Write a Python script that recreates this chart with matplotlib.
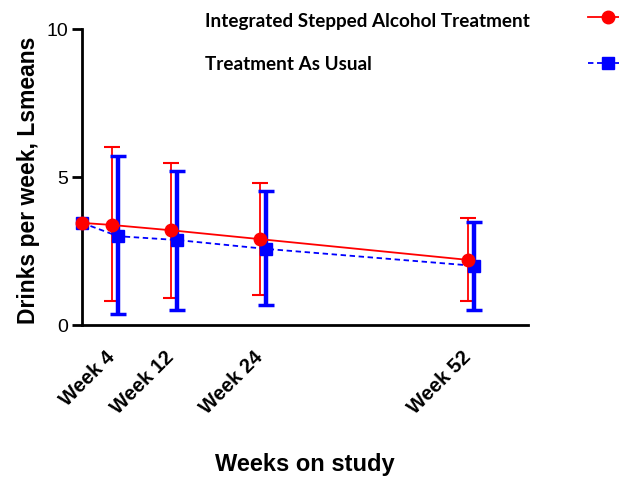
import numpy as np
import matplotlib
matplotlib.use("Agg")
import matplotlib.pyplot as plt
from matplotlib.lines import Line2D

# ---- data ----
weeks = [0, 4, 12, 24, 52]
tick_labels = ['Week 4', 'Week 12', 'Week 24', 'Week 52']

isat_mean = [3.45, 3.38, 3.20, 2.90, 2.20]
isat_low = [0.80, 0.90, 1.00, 0.80]      # follow-up weeks only
isat_high = [6.00, 5.48, 4.80, 3.60]

tau_mean = [3.45, 3.00, 2.87, 2.57, 2.00]
tau_low = [0.37, 0.50, 0.68, 0.50]
tau_high = [5.70, 5.20, 4.53, 3.48]

labels = ['Integrated Stepped Alcohol Treatment', 'Treatment As Usual']

RED = '#FF0000'
BLUE = '#0000FF'
DODGE = 0.85   # weeks, small shift so the bars don't overlap

plt.rcParams['font.family'] = ['Liberation Sans', 'DejaVu Sans']

fig = plt.figure(figsize=(6.19, 4.83), dpi=100)
ax = fig.add_axes([82/619, 1-325/483, (528-82)/619, (325-29)/483])

x_isat = np.array(weeks, dtype=float)
x_tau = np.array([w + DODGE if w > 0 else w for w in weeks], dtype=float)

isat_m = np.array(isat_mean)
tau_m = np.array(tau_mean)

# error bars (follow-up only)
ax.errorbar(x_isat[1:], isat_m[1:],
            yerr=[isat_m[1:] - np.array(isat_low), np.array(isat_high) - isat_m[1:]],
            fmt='none', ecolor=RED, elinewidth=1.3, capsize=6, capthick=1.5, zorder=3)
ax.errorbar(x_tau[1:], tau_m[1:],
            yerr=[tau_m[1:] - np.array(tau_low), np.array(tau_high) - tau_m[1:]],
            fmt='none', ecolor=BLUE, elinewidth=3.2, capsize=6, capthick=2.5, zorder=4)

# lines + markers
ax.plot(x_tau, tau_m, color=BLUE, ls=(0, (3, 2)), lw=1.3,
        marker='s', ms=8, mfc=BLUE, mec=BLUE, zorder=5, clip_on=False)
ax.plot(x_isat, isat_m, color=RED, ls='-', lw=1.3,
        marker='o', ms=9, mfc=RED, mec=RED, zorder=6, clip_on=False)

ax.set_xlim(0, 60.1)
ax.set_ylim(0, 10)
ax.set_yticks([0, 5, 10])
ax.set_xticks(weeks[1:])
ax.set_xticklabels(tick_labels, rotation=45, ha='right', va='center',
                   rotation_mode='anchor', fontsize=14.5, fontweight='bold')
ax.tick_params(axis='x', length=0, pad=21)
ax.tick_params(axis='y', length=7, width=2, labelsize=14, pad=3)

for s in ['top', 'right']:
    ax.spines[s].set_visible(False)
for s in ['left', 'bottom']:
    ax.spines[s].set_linewidth(2)

ax.set_ylabel('Drinks per week, Lsmeans', fontsize=16.5, fontweight='bold')
ax.yaxis.set_label_coords(-42/446, 0.49)
fig.text(305/619, 1-465/483, 'Weeks on study', ha='center', va='center',
         fontsize=17, fontweight='bold')

# legend: labels left-aligned, handles at the right edge
fig.text(205/619, 1-22/483, labels[0], ha='left', va='center',
         fontsize=13.6, fontweight='bold', family=['Lato', 'DejaVu Sans'])
fig.text(205/619, 1-65/483, labels[1], ha='left', va='center',
         fontsize=13.6, fontweight='bold', family=['Lato', 'DejaVu Sans'])

h1 = Line2D([], [], color=RED, lw=1.3, marker='o', ms=9)
h2 = Line2D([], [], color=BLUE, lw=1.3, ls=(0, (3, 2)), marker='s', ms=8)
leg = fig.legend([h1, h2], ['', ''], loc='center',
                 bbox_to_anchor=(608/619, 1-42/483), frameon=False,
                 handlelength=2.2, handletextpad=0, borderpad=0,
                 labelspacing=1.6, fontsize=13)

fig.savefig('out.png', dpi=100)
